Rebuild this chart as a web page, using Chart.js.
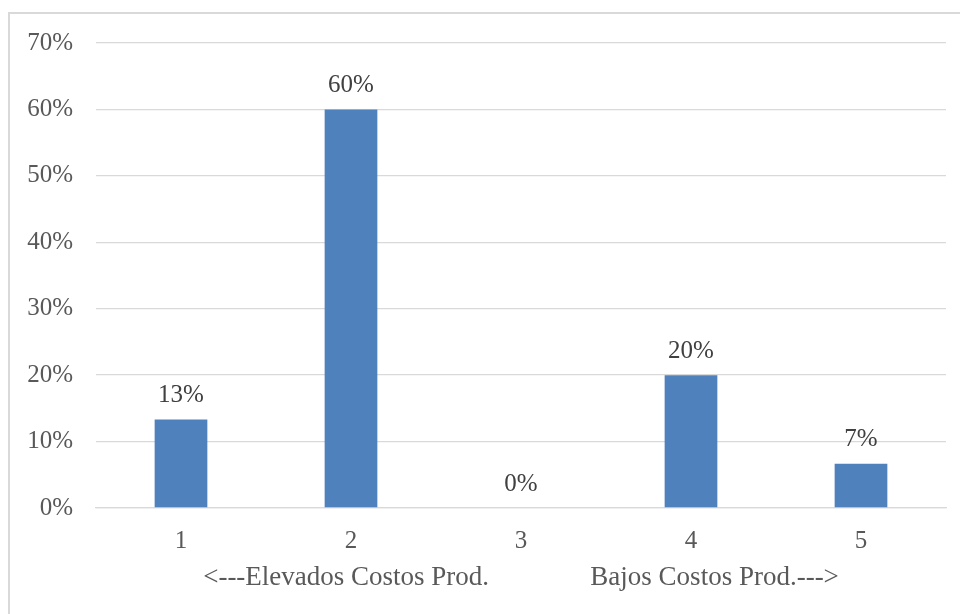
<!DOCTYPE html>
<html>
<head>
<meta charset="utf-8">
<script src="https://cdn.jsdelivr.net/npm/chart.js@4"></script>
<style>
    html, body { margin: 0; padding: 0; background: #fff; }
    #wrap { position: relative; width: 960px; height: 614px; }
</style>
</head>
<body>
<div id="wrap"><canvas id="myChart" width="960" height="614"></canvas></div>
<script>
const categories = ['1', '2', '3', '4', '5'];
const shares = [13.33, 60, 0, 20, 6.67];
const yTicks = [0, 10, 20, 30, 40, 50, 60, 70];
const axisTitle = '<---Elevados Costos Prod.               Bajos Costos Prod.--->';

const serif = "'Liberation Serif', serif";
const fontSize = 25;

// value labels over each bar
const barLabels = {
    id: 'barLabels',
    afterDatasetsDraw(chart) {
        const ctx = chart.ctx;
        const meta = chart.getDatasetMeta(0);
        ctx.save();
        ctx.font = fontSize + 'px ' + serif;
        ctx.fillStyle = '#404040';
        ctx.textAlign = 'center';
        ctx.textBaseline = 'middle';
        meta.data.forEach((bar, i) => {
            ctx.fillText(Math.round(shares[i]) + '%', bar.x, bar.y - 24);
        });
        ctx.restore();
    }
};

// light frame round the chart
const frame = {
    id: 'frame',
    beforeDraw(chart) {
        const ctx = chart.ctx;
        ctx.save();
        ctx.strokeStyle = '#d9d9d9';
        ctx.lineWidth = 2;
        ctx.strokeRect(9, 13, 1000, 700);
        ctx.restore();
    }
};

const data = {
    labels: categories,
    datasets: [{
        data: shares,
        backgroundColor: '#4f81bd',
        barPercentage: 1,
        categoryPercentage: 0.31
    }]
};

const config = {
    type: 'bar',
    data,
    options: {
        responsive: false,
        animation: false,
        layout: {
            padding: { top: 43, right: 14, bottom: 0, left: 0 }
        },
        scales: {
            y: {
                min: 0,
                max: 70,
                afterBuildTicks: (s) => { s.ticks = yTicks.map(v => ({ value: v })); },
                afterFit: (s) => { s.width = 96; },
                border: { display: false },
                grid: { color: '#d9d9d9', lineWidth: 1.3, drawTicks: false },
                ticks: {
                    padding: 23,
                    color: '#595959',
                    font: { family: serif, size: fontSize },
                    callback: (v) => v + '%'
                }
            },
            x: {
                afterFit: (s) => { s.height = 106; },
                border: { color: '#d9d9d9', width: 1.3 },
                grid: { display: false, drawTicks: false },
                ticks: {
                    padding: 18,
                    color: '#595959',
                    font: { family: serif, size: fontSize }
                },
                title: {
                    display: true,
                    text: axisTitle,
                    color: '#595959',
                    font: { family: serif, size: 27 },
                    padding: { top: 0, bottom: 20 }
                }
            }
        },
        plugins: {
            legend: { display: false },
            tooltip: { enabled: false }
        }
    },
    plugins: [frame, barLabels]
};

const myChart = new Chart(
    document.getElementById('myChart').getContext('2d'),
    config
);
</script>
</body>
</html>
